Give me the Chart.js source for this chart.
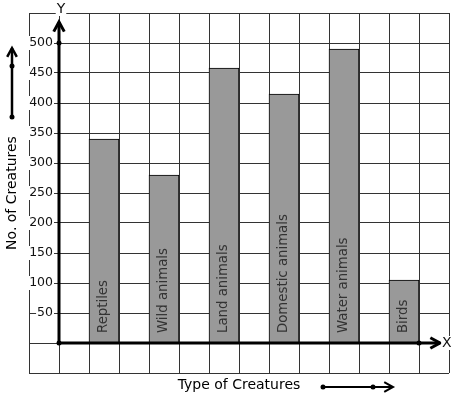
<!DOCTYPE html>
<html>
<head>
<meta charset="utf-8">
<script src="https://cdn.jsdelivr.net/npm/chart.js@4.4.0/dist/chart.umd.min.js"></script>
<style>
  html, body { margin: 0; padding: 0; background: #fff; }
  #wrap { width: 457px; height: 399px; }
</style>
</head>
<body>
<div id="wrap"><canvas id="chartCreatures"></canvas></div>
<script>
const categories = ['Reptiles', 'Wild animals', 'Land animals', 'Domestic animals', 'Water animals', 'Birds'];
const creatureCounts = [340, 280, 458, 415, 490, 105];
const yTickValues = [50, 100, 150, 200, 250, 300, 350, 400, 450, 500];

const fontFam = '"DejaVu Sans", sans-serif';

// each bar takes one grid cell, with an empty cell between them
const puntos = categories.map((c, i) => ({ x: 1.5 + 2 * i, y: creatureCounts[i] }));

function flecha(ctx, x1, y1, x2, y2, tam) {
    const ang = Math.atan2(y2 - y1, x2 - x1);
    ctx.beginPath();
    ctx.moveTo(x1, y1);
    ctx.lineTo(x2, y2);
    ctx.stroke();
    ctx.beginPath();
    ctx.moveTo(x2 - tam * Math.cos(ang - 0.5), y2 - tam * Math.sin(ang - 0.5));
    ctx.lineTo(x2, y2);
    ctx.lineTo(x2 - tam * Math.cos(ang + 0.5), y2 - tam * Math.sin(ang + 0.5));
    ctx.stroke();
}

function punto(ctx, x, y) {
    ctx.beginPath();
    ctx.arc(x, y, 2.5, 0, Math.PI * 2);
    ctx.fill();
}

function textoConFondo(ctx, txt, x, y, align) {
    ctx.textAlign = align;
    const w = ctx.measureText(txt).width;
    let left = x;
    if (align === 'right') left = x - w;
    if (align === 'center') left = x - w / 2;
    ctx.fillStyle = '#fff';
    ctx.fillRect(left - 1, y - 7, w + 2, 14);
    ctx.fillStyle = '#111';
    ctx.fillText(txt, x, y);
}

const ejesPlugin = {
    id: 'ejes',
    afterDatasetsDraw(chart) {
        const ctx = chart.ctx;
        const xs = chart.scales.x, ys = chart.scales.y;
        const x0 = xs.getPixelForValue(0), y0 = ys.getPixelForValue(0);
        const area = chart.chartArea;
        ctx.save();

        // names inside bars
        const meta = chart.getDatasetMeta(0);
        ctx.font = '13.3px ' + fontFam;
        ctx.fillStyle = '#333';
        ctx.textBaseline = 'middle';
        ctx.textAlign = 'left';
        meta.data.forEach((bar, i) => {
            ctx.save();
            ctx.translate(bar.x, y0 - 10);
            ctx.rotate(-Math.PI / 2);
            ctx.fillText(categories[i], 0, 0);
            ctx.restore();
        });

        // y tick labels over the grid
        ctx.font = '12.5px ' + fontFam;
        yTickValues.forEach(v => {
            textoConFondo(ctx, String(v), x0 - 6, ys.getPixelForValue(v), 'right');
        });

        // axes
        ctx.strokeStyle = '#000';
        ctx.fillStyle = '#000';
        ctx.lineWidth = 3;
        ctx.lineCap = 'butt';
        flecha(ctx, x0, y0, x0, ys.getPixelForValue(535), 11);
        flecha(ctx, x0, y0, xs.getPixelForValue(12.7), y0, 11);
        punto(ctx, x0, y0);
        punto(ctx, x0, ys.getPixelForValue(500));
        punto(ctx, xs.getPixelForValue(12), y0);

        ctx.font = '14px ' + fontFam;
        ctx.textBaseline = 'middle';
        textoConFondo(ctx, 'Y', x0 + 2, area.top - 4, 'center');
        textoConFondo(ctx, 'X', xs.getPixelForValue(12.93), y0, 'center');

        // direction arrows next to the titles
        ctx.strokeStyle = '#000';
        ctx.fillStyle = '#000';
        ctx.lineWidth = 2.5;
        flecha(ctx, 12, 117, 12, 48, 10);
        punto(ctx, 12, 117);
        punto(ctx, 12, 66);
        ctx.lineWidth = 2;
        flecha(ctx, 323, 387, 393, 387, 10);
        punto(ctx, 323, 387);
        punto(ctx, 373, 387);

        ctx.restore();
    }
};

new Chart(document.getElementById('chartCreatures'), {
    type: 'bar',
    data: {
        datasets: [{
            data: puntos,
            backgroundColor: '#999999',
            borderColor: '#000',
            borderWidth: 1,
            barPercentage: 1,
            categoryPercentage: 1
        }]
    },
    options: {
        responsive: true,
        maintainAspectRatio: false,
        animation: false,
        layout: { padding: { top: 13, right: 8, left: 0, bottom: 0 } },
        plugins: { legend: { display: false }, tooltip: { enabled: false } },
        scales: {
            x: {
                type: 'linear',
                min: -1,
                max: 13,
                offset: false,
                ticks: { stepSize: 1, display: false },
                grid: { color: '#333', lineWidth: 1, drawTicks: false, offset: false },
                border: { display: false },
                title: {
                    display: true,
                    text: 'Type of Creatures',
                    color: '#000',
                    font: { family: fontFam, size: 14 },
                    padding: { top: 4.1, bottom: 5.1 }
                }
            },
            y: {
                min: -50,
                max: 550,
                ticks: { stepSize: 50, display: false },
                grid: { color: '#333', lineWidth: 1, drawTicks: false },
                border: { display: false },
                title: {
                    display: true,
                    text: 'No. of Creatures',
                    color: '#000',
                    font: { family: fontFam, size: 14 },
                    padding: { top: 3.6, bottom: 8.6 }
                }
            }
        }
    },
    plugins: [ejesPlugin]
});
</script>
</body>
</html>
